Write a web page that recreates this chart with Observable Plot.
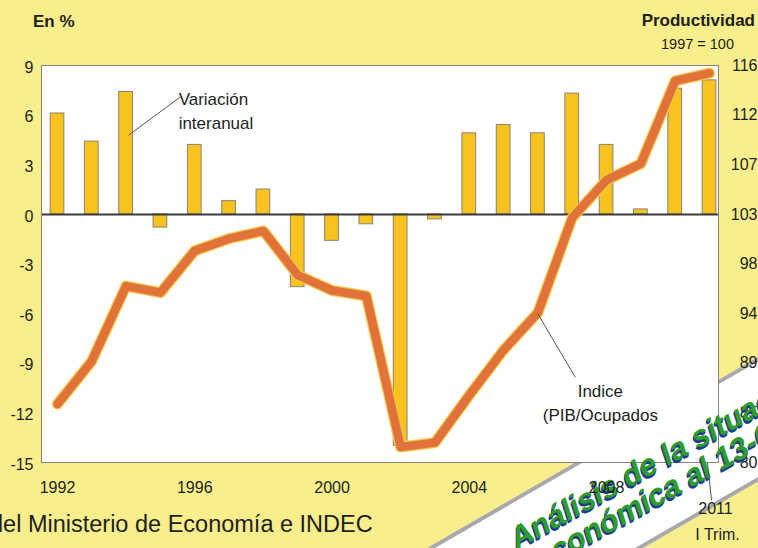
<!DOCTYPE html>
<html>
<head>
<meta charset="utf-8">
<script src="https://cdn.jsdelivr.net/npm/d3@7"></script>
<script src="https://cdn.jsdelivr.net/npm/@observablehq/plot@0.6"></script>
<style>
  html, body { margin: 0; padding: 0; background: #F9EE8C; }
  #wrap { position: relative; width: 758px; height: 548px; overflow: hidden; background: #F9EE8C;
          font-family: "Liberation Sans", Arial, sans-serif; color: #1e1e1e; }
  #chart { position: absolute; left: 0; top: 0; z-index: 2; }
  #overlay { position: absolute; left: 0; top: 0; z-index: 4; pointer-events: none; }
  .abs { position: absolute; white-space: nowrap; }
  #band { position: absolute; left: 427px; top: 548px; width: 700px; height: 108px; box-sizing: border-box;
          transform-origin: 0 0; transform: rotate(-30deg); background: #ffffff;
          border-top: 4px solid #a9a9a9; border-bottom: 4px solid #a9a9a9; z-index: 1; }
  #bandText { position: absolute; left: 427px; top: 548px; width: 700px; height: 108px;
          transform-origin: 0 0; transform: rotate(-29deg); z-index: 3; pointer-events: none;
          font-family: "Liberation Sans", Arial, sans-serif; font-weight: bold; font-style: italic;
          font-size: 31px; line-height: 31px; color: #2f9d2c;
          text-shadow: -1px 1px 0 #1f3c8c, -2px 2px 0 #1f3c8c; }
  #bandText div { position: absolute; white-space: nowrap; }
</style>
</head>
<body>
<div id="wrap">
  <div id="band"></div>
  <div id="chart"></div>
  <div id="overlay"></div>
  <div class="abs" style="left:33px; top:12px; font-size:17px; font-weight:bold; z-index:4;">En %</div>
  <div class="abs" style="right:3px; top:11px; font-size:17px; font-weight:bold; z-index:4;">Productividad</div>
  <div class="abs" style="left:661px; top:36px; font-size:14.5px; z-index:4;">1997 = 100</div>
  <div class="abs" style="left:-10px; top:511px; font-size:23.5px; z-index:4;">del Ministerio de Economía e INDEC</div>
  <div id="bandText">
    <div style="left:78px; top:19px;">Análisis de la situación</div>
    <div style="left:90px; top:49px;">económica al 13-07-2011</div>
  </div>
</div>
<script>
// ---- data ----
const years = [1992, 1993, 1994, 1995, 1996, 1997, 1998, 1999, 2000, 2001,
               2002, 2003, 2004, 2005, 2006, 2007, 2008, 2009, 2010, 2011];
// Variación interanual (%), left axis
const variacion = [6.1, 4.4, 7.4, -0.8, 4.2, 0.8, 1.5, -4.4, -1.6, -0.6,
                   -14.0, -0.3, 4.9, 5.4, 4.9, 7.3, 4.2, 0.3, 7.6, 8.1];
// Indice de productividad PIB/Ocupados (1997 = 100), right axis
const indice = [85.3, 89.2, 96.0, 95.4, 99.2, 100.3, 101.0, 97.0, 95.6, 95.1,
                81.4, 81.8, 86.1, 90.2, 93.6, 102.2, 105.6, 107.1, 114.6, 115.3];
const leftTicks = [-15, -12, -9, -6, -3, 0, 3, 6, 9];
const rightTickLabels = ["80", "85", "89", "94", "98", "103", "107", "112", "116"];
const xTicks = [1992, 1996, 2000, 2004, 2008];
const leftDomain = [-15, 9];
const rightDomain = [80, 116];

// ---- derived ----
const toLeft = d3.scaleLinear().domain(rightDomain).range(leftDomain);
const bars = years.map((year, i) => ({year, value: variacion[i]}));
const line = years.map((year, i) => ({year, value: toLeft(indice[i])}));
const rightMap = new Map(leftTicks.map((t, i) => [t, rightTickLabels[i]]));

const FONT = '"Liberation Sans", Arial, sans-serif';
const orange = "#E1723A";

const base = {
  width: 758,
  height: 548,
  marginTop: 65,
  marginLeft: 41,
  marginRight: 40,
  marginBottom: 86,
  style: {background: "transparent", fontFamily: FONT, fontSize: "16px", color: "#1e1e1e", overflow: "visible"}
};
const xDomain = [1991.534, 2011.262];

const chart = Plot.plot({
  ...base,
  x: {domain: xDomain, label: null, axis: null},
  y: {domain: leftDomain, label: null},
  marks: [
    Plot.frame({fill: "#ffffff", stroke: null}),
    Plot.rectY(bars, {x1: d => d.year - 0.2, x2: d => d.year + 0.2, y1: 0, y2: "value",
                      fill: "#F8C31E", stroke: "#8a8272", strokeWidth: 1}),
    Plot.ruleY([0], {stroke: "#3a3a3a", strokeWidth: 2}),
    Plot.line(line, {x: "year", y: "value", stroke: "#F5C84A", strokeWidth: 11,
                     strokeLinejoin: "round", strokeLinecap: "round"}),
    Plot.line(line, {x: "year", y: "value", stroke: orange, strokeWidth: 8.5,
                     strokeLinejoin: "round", strokeLinecap: "round"}),
    Plot.frame({stroke: "#858585", strokeWidth: 1}),
    Plot.axisY(leftTicks, {anchor: "left", tickSize: 0, tickPadding: 8, dy: 2, tickFormat: d => String(d), label: null, fontSize: 16}),
    Plot.axisY(leftTicks, {anchor: "right", tickSize: 0, tickPadding: 39, textAnchor: "end",
                           tickFormat: d => rightMap.get(d), label: null, fontSize: 16}),
    // annotations
    Plot.link([{x1: 1994.07, y1: 4.78, x2: 1995.58, y2: 7.1}],
              {x1: "x1", y1: "y1", x2: "x2", y2: "y2", stroke: "#555", strokeWidth: 1}),
    Plot.text([{x: 1995.53, y: 6.35, t: "Variación\ninteranual"}],
              {x: "x", y: "y", text: "t", textAnchor: "start", fontSize: 17, lineHeight: 1.41}),
    Plot.link([{x1: 2005.99, y1: -5.99, x2: 2007.09, y2: -9.85}],
              {x1: "x1", y1: "y1", x2: "x2", y2: "y2", stroke: "#555", strokeWidth: 1}),
    Plot.text([{x: 2007.82, y: -11.3, t: "Indice\n(PIB/Ocupados"}],
              {x: "x", y: "y", text: "t", textAnchor: "middle", fontSize: 17, lineHeight: 1.41})
  ]
});
document.getElementById("chart").appendChild(chart);

// x-axis labels sit above the watermark band
const overlay = Plot.plot({
  ...base,
  x: {domain: xDomain, label: null},
  y: {domain: leftDomain, label: null, axis: null},
  marks: [
    Plot.axisX(xTicks, {anchor: "bottom", tickSize: 0, tickPadding: 19, tickFormat: d => String(d), label: null, fontSize: 16}),
    Plot.text([2011], {x: d => d, frameAnchor: "bottom", dx: 6, dy: 51, text: () => "2011", fontSize: 16}),
    Plot.text([2011], {x: d => d, frameAnchor: "bottom", dx: 8, dy: 77, text: () => "I Trim.", fontSize: 16}),
    Plot.link([{x1: 2010.94, y1: -15, x2: 2011.06, y2: -17.3}],
              {x1: "x1", y1: "y1", x2: "x2", y2: "y2", stroke: "#555", strokeWidth: 1})
  ]
});
document.getElementById("overlay").appendChild(overlay);
</script>
</body>
</html>
